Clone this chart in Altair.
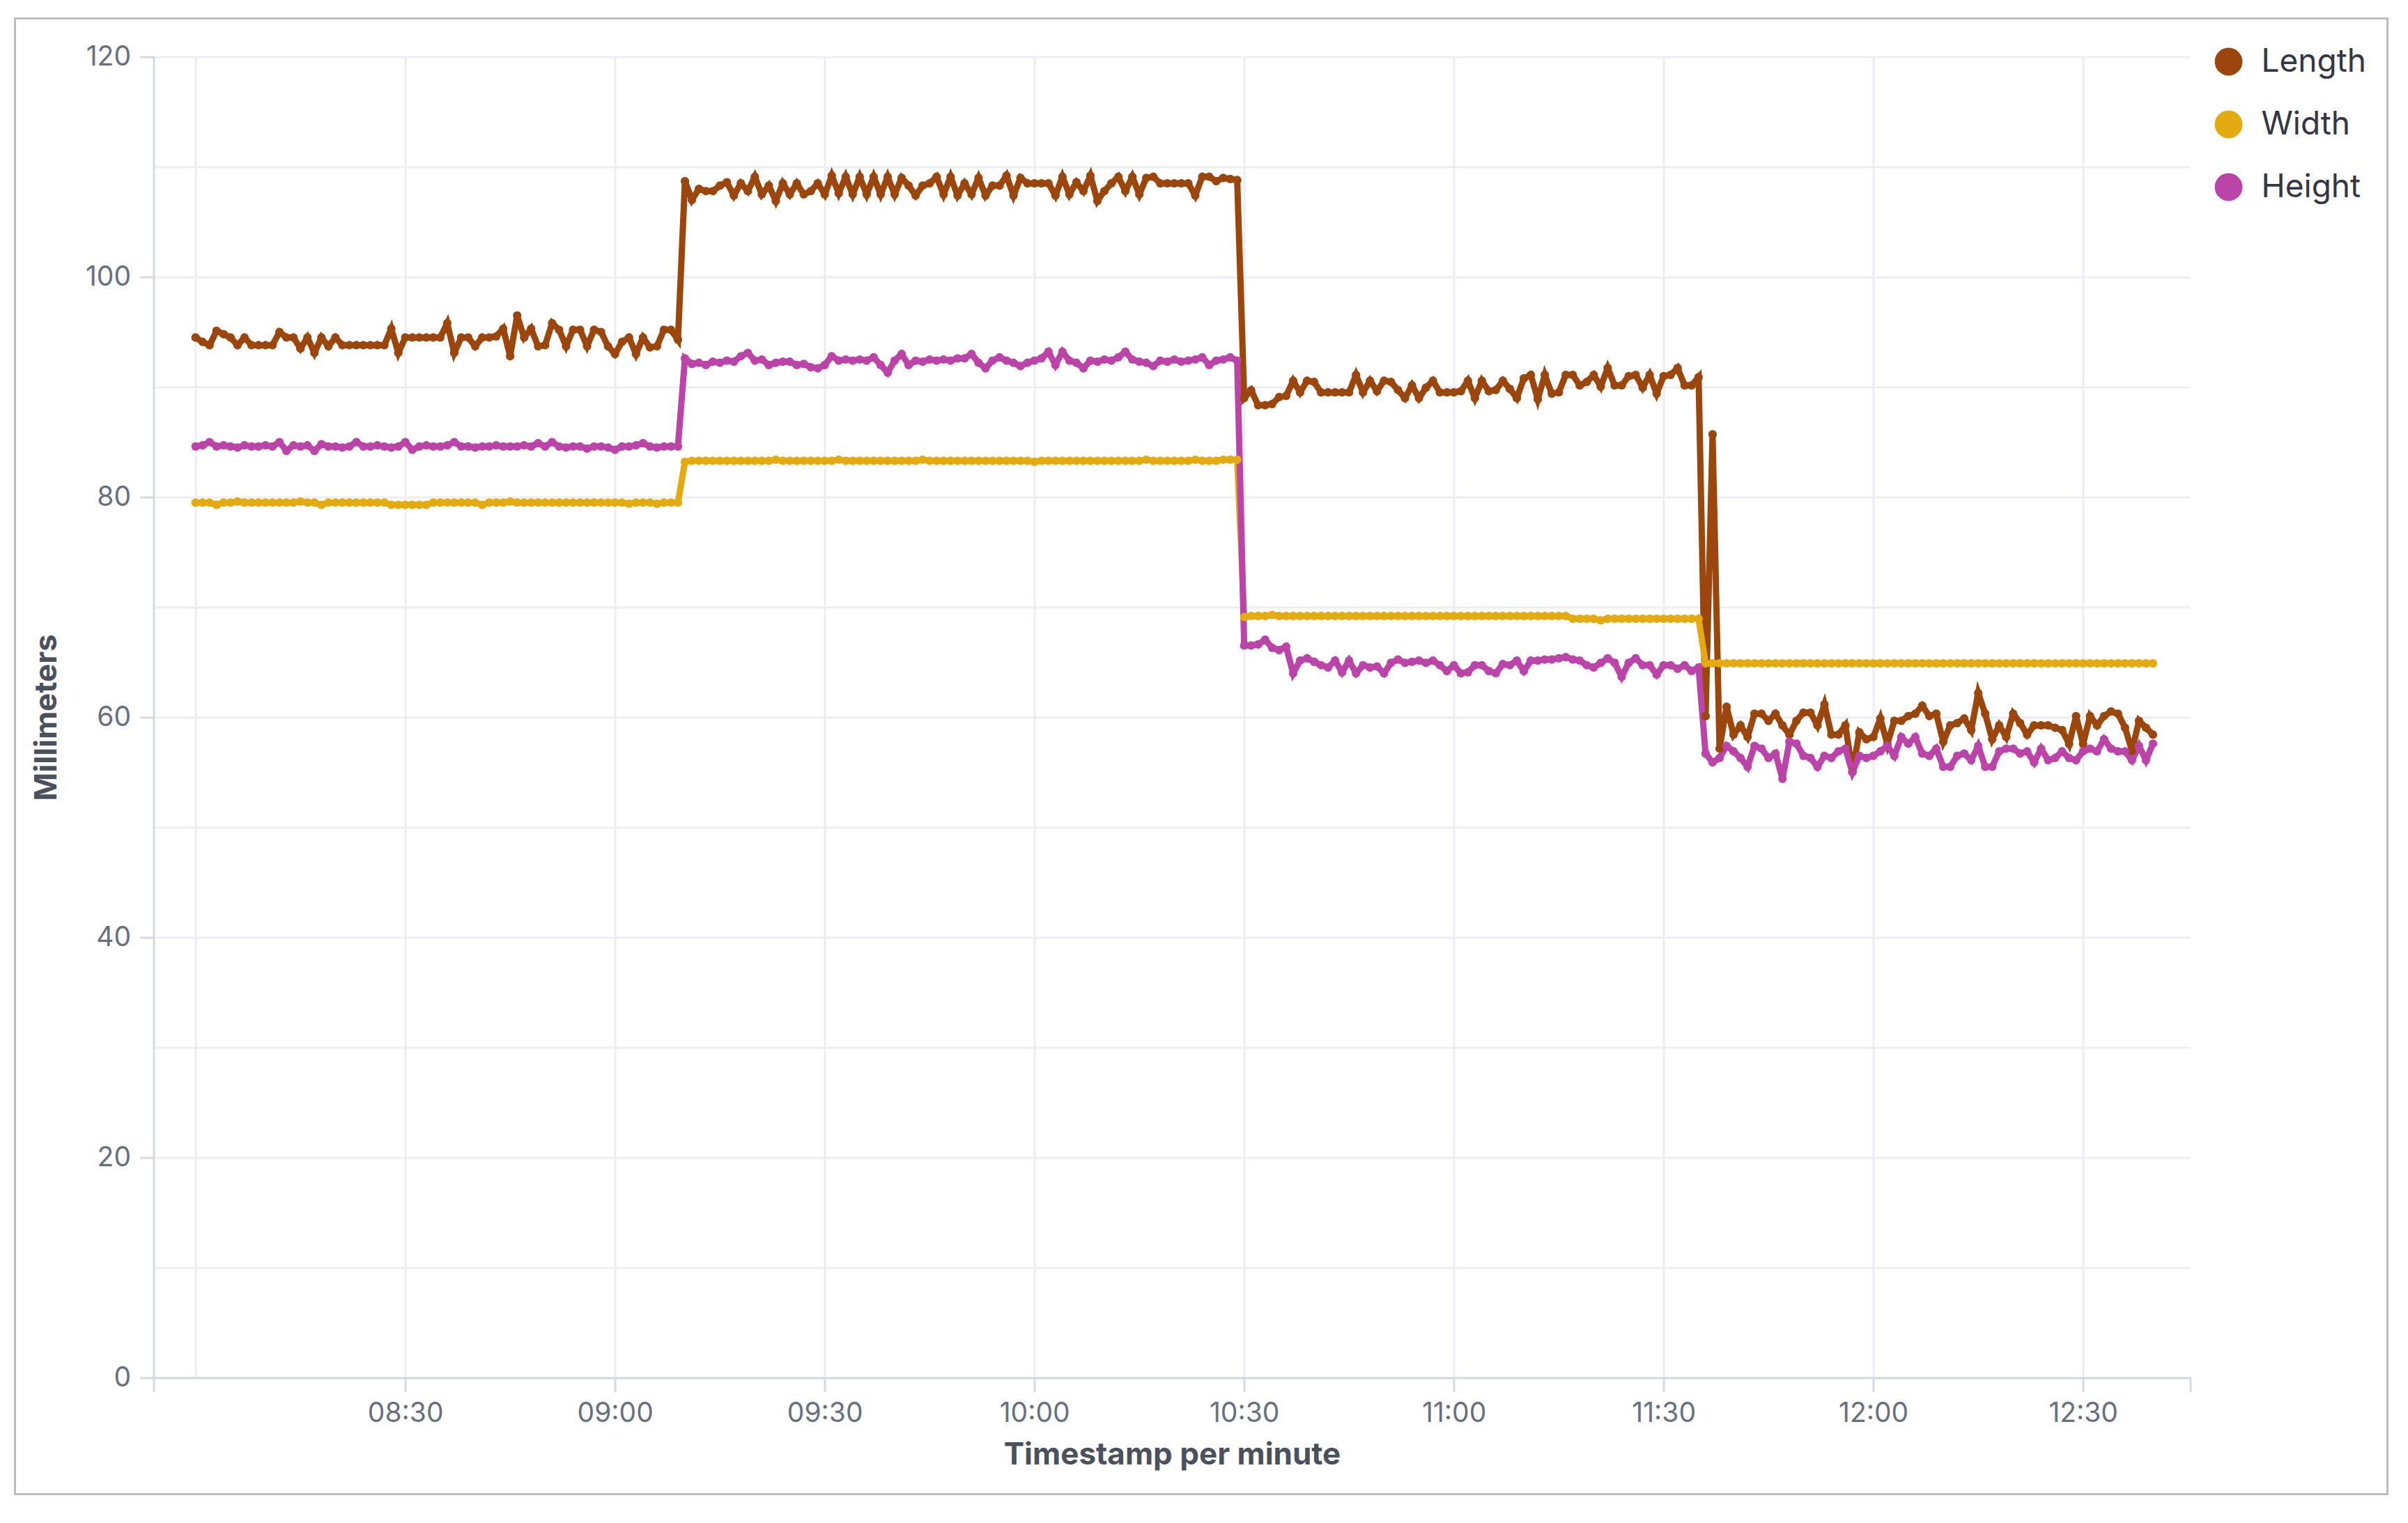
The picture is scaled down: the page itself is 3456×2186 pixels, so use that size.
import altair as alt
import pandas as pd

# ---------------- data (one reading per minute, 08:00 .. 12:40) ----------------
start_time = "2023-01-01 08:00"
series_names = ["Length", "Width", "Height"]
series_colors = ["#9A460C", "#E3AB10", "#BB44A8"]

length_vals = [
    # 08:00 - 09:09
    94.5, 94.1, 93.8, 95.1, 94.8, 94.5, 93.8, 94.5, 93.8, 93.8,
    93.8, 93.8, 95.0, 94.5, 94.5, 93.5, 94.5, 93.1, 94.5, 93.7,
    94.5, 93.8, 93.8, 93.8, 93.8, 93.8, 93.8, 93.8, 95.3, 93.1,
    94.5, 94.5, 94.5, 94.5, 94.5, 94.5, 95.8, 93.1, 94.5, 94.5,
    93.7, 94.5, 94.5, 94.6, 95.3, 92.8, 96.5, 94.5, 95.3, 93.7,
    93.8, 95.8, 95.2, 93.7, 95.2, 95.2, 93.7, 95.2, 95.0, 93.7,
    93.0, 94.1, 94.5, 93.0, 94.5, 93.6, 93.7, 95.2, 95.2, 94.3,
    # 09:10 - 10:29
    108.7, 107.0, 108.0, 107.8, 107.8, 108.3, 108.6, 107.4, 108.5, 107.8,
    109.1, 107.5, 108.3, 106.9, 108.5, 107.5, 108.5, 107.5, 107.8, 108.5,
    107.5, 109.2, 107.6, 109.1, 107.5, 109.1, 107.5, 109.1, 107.5, 109.1,
    107.5, 109.0, 108.3, 107.4, 108.3, 108.5, 109.1, 107.5, 109.1, 107.4,
    108.5, 107.5, 109.0, 107.4, 108.3, 108.3, 109.2, 107.4, 109.0, 108.5,
    108.5, 108.5, 108.5, 107.4, 109.1, 107.5, 108.6, 107.8, 109.2, 106.9,
    107.8, 108.5, 109.1, 107.8, 109.1, 107.5, 109.0, 109.1, 108.5, 108.5,
    108.5, 108.5, 108.5, 107.4, 109.1, 109.1, 108.7, 109.0, 108.9, 108.8,
    # 10:30 - 11:35
    89.0, 89.7, 88.35, 88.35, 88.46, 89.09, 89.2, 90.57, 89.51, 90.57,
    90.46, 89.51, 89.51, 89.51, 89.51, 89.51, 91.1, 89.51, 90.57, 89.62,
    90.57, 90.46, 89.73, 88.99, 90.15, 88.99, 89.94, 90.57, 89.51, 89.51,
    89.51, 89.62, 90.57, 88.99, 90.57, 89.62, 89.73, 90.57, 89.83, 88.99,
    90.78, 91.1, 88.88, 91.1, 89.41, 89.51, 91.1, 91.1, 90.15, 90.46,
    91.1, 90.04, 91.73, 90.15, 90.15, 90.99, 91.1, 89.94, 91.1, 89.41,
    90.99, 91.1, 91.73, 90.15, 90.15, 90.89,
    # 11:36 - 12:40
    60.1, 85.7, 57.15, 60.95, 58.42, 59.26, 58.21, 60.32, 60.32, 59.68,
    60.32, 59.26, 58.42, 59.68, 60.42, 60.42, 59.26, 61.16, 58.42, 58.42,
    59.26, 55.04, 58.63, 58.0, 58.21, 59.89, 57.57, 59.68, 59.68, 60.11,
    60.32, 61.05, 60.11, 60.32, 57.78, 59.26, 59.47, 59.89, 58.84, 62.2,
    60.32, 58.0, 59.26, 58.21, 60.32, 59.47, 58.42, 59.26, 59.26, 59.26,
    59.05, 58.84, 57.57, 60.11, 57.57, 60.11, 59.26, 60.11, 60.53, 60.32,
    59.05, 56.94, 59.68, 59.05, 58.42,
]

width_vals = [
    # 08:00 - 09:09
    79.5, 79.5, 79.5, 79.3, 79.5, 79.5, 79.6, 79.5, 79.5, 79.5,
    79.5, 79.5, 79.5, 79.5, 79.5, 79.6, 79.5, 79.5, 79.3, 79.5,
    79.5, 79.5, 79.5, 79.5, 79.5, 79.5, 79.5, 79.5, 79.3, 79.3,
    79.3, 79.3, 79.3, 79.3, 79.5, 79.5, 79.5, 79.5, 79.5, 79.5,
    79.5, 79.3, 79.5, 79.5, 79.5, 79.6, 79.5, 79.5, 79.5, 79.5,
    79.5, 79.5, 79.5, 79.5, 79.5, 79.5, 79.5, 79.5, 79.5, 79.5,
    79.5, 79.5, 79.4, 79.5, 79.5, 79.5, 79.4, 79.5, 79.5, 79.5,
    # 09:10 - 10:29
    83.2, 83.3, 83.3, 83.3, 83.3, 83.3, 83.3, 83.3, 83.3, 83.3,
    83.3, 83.3, 83.3, 83.4, 83.3, 83.3, 83.3, 83.3, 83.3, 83.3,
    83.3, 83.3, 83.4, 83.3, 83.3, 83.3, 83.3, 83.3, 83.3, 83.3,
    83.3, 83.3, 83.3, 83.3, 83.4, 83.3, 83.3, 83.3, 83.3, 83.3,
    83.3, 83.3, 83.3, 83.3, 83.3, 83.3, 83.3, 83.3, 83.3, 83.3,
    83.2, 83.3, 83.3, 83.3, 83.3, 83.3, 83.3, 83.3, 83.3, 83.3,
    83.3, 83.3, 83.3, 83.3, 83.3, 83.3, 83.4, 83.3, 83.3, 83.3,
    83.3, 83.3, 83.3, 83.4, 83.3, 83.3, 83.3, 83.4, 83.4, 83.4,
    # 10:30 - 11:35
    69.1, 69.2, 69.2, 69.2, 69.3, 69.2, 69.2, 69.2, 69.2, 69.2,
    69.2, 69.2, 69.2, 69.2, 69.2, 69.2, 69.2, 69.2, 69.2, 69.2,
    69.2, 69.2, 69.2, 69.2, 69.2, 69.2, 69.2, 69.2, 69.2, 69.2,
    69.2, 69.2, 69.2, 69.2, 69.2, 69.2, 69.2, 69.2, 69.2, 69.2,
    69.2, 69.2, 69.2, 69.2, 69.2, 69.2, 69.2, 68.95, 68.95, 68.95,
    68.95, 68.8, 68.95, 68.95, 68.95, 68.95, 68.95, 68.95, 68.95, 68.95,
    68.95, 68.95, 68.95, 68.95, 68.95, 68.95,
    # 11:36 - 12:40
    64.9, 64.9, 64.9, 64.9, 64.9, 64.9, 64.9, 64.9, 64.9, 64.9,
    64.9, 64.9, 64.9, 64.9, 64.9, 64.9, 64.9, 64.9, 64.9, 64.9,
    64.9, 64.9, 64.9, 64.9, 64.9, 64.9, 64.9, 64.9, 64.9, 64.9,
    64.9, 64.9, 64.9, 64.9, 64.9, 64.9, 64.9, 64.9, 64.9, 64.9,
    64.9, 64.9, 64.9, 64.9, 64.9, 64.9, 64.9, 64.9, 64.9, 64.9,
    64.9, 64.9, 64.9, 64.9, 64.9, 64.9, 64.9, 64.9, 64.9, 64.9,
    64.9, 64.9, 64.9, 64.9, 64.9,
]

height_vals = [
    # 08:00 - 09:09
    84.6, 84.7, 85.0, 84.6, 84.7, 84.6, 84.5, 84.7, 84.6, 84.6,
    84.7, 84.6, 85.0, 84.2, 84.7, 84.6, 84.7, 84.2, 84.8, 84.6,
    84.6, 84.5, 84.6, 85.0, 84.6, 84.6, 84.7, 84.6, 84.5, 84.6,
    85.0, 84.3, 84.6, 84.7, 84.6, 84.6, 84.7, 85.0, 84.6, 84.6,
    84.5, 84.6, 84.6, 84.7, 84.6, 84.6, 84.6, 84.7, 84.6, 84.9,
    84.6, 85.0, 84.6, 84.5, 84.6, 84.6, 84.4, 84.6, 84.6, 84.5,
    84.3, 84.6, 84.6, 84.7, 84.9, 84.6, 84.5, 84.6, 84.6, 84.6,
    # 09:10 - 10:29
    92.6, 92.1, 92.2, 92.0, 92.3, 92.2, 92.4, 92.3, 92.8, 93.1,
    92.4, 92.5, 92.0, 92.2, 92.3, 92.3, 92.0, 92.1, 91.8, 91.7,
    92.0, 92.8, 92.4, 92.5, 92.4, 92.5, 92.4, 92.7, 92.0, 91.3,
    92.4, 93.0, 92.0, 92.4, 92.3, 92.5, 92.4, 92.5, 92.4, 92.6,
    92.6, 93.0, 92.2, 91.7, 92.4, 92.7, 92.4, 92.2, 91.9, 92.2,
    92.4, 92.6, 93.2, 92.0, 93.2, 92.4, 92.2, 91.7, 92.4, 92.3,
    92.5, 92.4, 92.7, 93.2, 92.5, 92.3, 92.2, 91.9, 92.4, 92.3,
    92.5, 92.3, 92.4, 92.5, 92.7, 92.0, 92.4, 92.5, 92.7, 92.4,
    # 10:30 - 11:35
    66.52, 66.52, 66.62, 67.05, 66.31, 66.10, 66.41, 63.99, 65.15, 65.36,
    65.04, 64.73, 64.52, 65.15, 64.09, 65.15, 63.99, 64.73, 64.52, 64.62,
    63.99, 64.94, 65.25, 64.94, 65.04, 65.15, 64.94, 65.15, 64.73, 64.20,
    64.73, 63.99, 64.09, 64.73, 64.73, 64.20, 63.99, 64.83, 64.73, 65.15,
    64.20, 65.15, 65.15, 65.25, 65.25, 65.36, 65.46, 65.25, 65.15, 64.73,
    64.52, 64.94, 65.36, 64.94, 63.67, 64.94, 65.36, 64.73, 64.73, 63.88,
    64.73, 64.73, 64.41, 64.73, 64.20, 64.52,
    # 11:36 - 12:40
    56.7, 55.9, 56.3, 57.4, 56.9, 56.3, 55.5, 57.4, 57.15, 56.3,
    56.7, 54.4, 57.8, 57.6, 56.5, 56.3, 55.5, 56.5, 56.3, 56.9,
    57.15, 55.0, 56.5, 56.3, 56.5, 56.9, 57.4, 56.5, 58.2, 57.6,
    58.2, 56.7, 56.5, 57.15, 55.5, 55.5, 56.5, 56.7, 56.1, 57.4,
    55.5, 55.5, 56.9, 57.15, 57.15, 56.7, 56.9, 55.9, 57.15, 56.1,
    56.3, 56.9, 56.3, 56.1, 56.9, 57.15, 56.9, 58.0, 57.15, 56.9,
    56.9, 56.1, 57.4, 56.1, 57.6,
]

y_ticks = [0, 10, 20, 30, 40, 50, 60, 70, 80, 90, 100, 110, 120]

# ---------------- long table ----------------
times = pd.date_range(start_time, periods=len(length_vals), freq="min")
frames = []
for name, vals in zip(series_names, [length_vals, width_vals, height_vals]):
    frames.append(pd.DataFrame({"time": times[: len(vals)], "series": name, "value": vals}))
df = pd.concat(frames, ignore_index=True)


def dt(h, m, s=0):
    return alt.DateTime(year=2023, month=1, date=1, hours=h, minutes=m, seconds=s)


x_values = [dt(7, 54), dt(8, 0), dt(8, 30), dt(9, 0), dt(9, 30), dt(10, 0), dt(10, 30),
            dt(11, 0), dt(11, 30), dt(12, 0), dt(12, 30), dt(12, 45, 20)]

FONT = "Inter"
LABEL_COLOR = "#69707D"
TITLE_COLOR = "#4A505C"
AXIS_COLOR = "#D6D9DE"
GRID_COLOR = "#ECEEF1"

x_enc = alt.X(
    "time:T",
    scale=alt.Scale(domain=[dt(7, 54), dt(12, 45, 20)], nice=False),
    axis=alt.Axis(
        title="Timestamp per minute",
        format="%H:%M",
        values=x_values,
        labelExpr="(minutes(datum.value) % 30 != 0 || (hours(datum.value) == 8 && minutes(datum.value) == 0)) ? '' : datum.label",
        tickOpacity={"condition": {"test": "hours(datum.value) == 8 && minutes(datum.value) == 0", "value": 0}, "value": 1},
        gridOpacity={"condition": {"test": "minutes(datum.value) % 30 != 0", "value": 0}, "value": 1},
        labelFlush=False,
        labelOverlap=False,
        tickSize=20,
        labelPadding=12,
        titlePadding=18,
    ),
)

y_enc = alt.Y(
    "value:Q",
    scale=alt.Scale(domain=[0, 120], nice=False),
    axis=alt.Axis(
        title="Millimeters",
        values=y_ticks,
        labelExpr="datum.value % 20 == 0 ? datum.label : ''",
        tickOpacity={"condition": {"test": "datum.value % 20 != 0", "value": 0}, "value": 1},
        tickSize=20,
        labelPadding=13,
        titlePadding=33,
    ),
)

color_scale = alt.Scale(domain=series_names, range=series_colors)

lines = alt.Chart(df).mark_line(strokeWidth=9).encode(
    x=x_enc,
    y=y_enc,
    color=alt.Color("series:N", scale=color_scale),
    detail="series:N",
)

points = alt.Chart(df).mark_circle(size=150, opacity=1).encode(
    x=x_enc,
    y=y_enc,
    color=alt.Color("series:N", scale=color_scale),
)

frame = alt.Chart(pd.DataFrame({"frame": [0]})).mark_rect(
    fillOpacity=0, stroke="#BDBDBD", strokeWidth=3
).encode(
    x=alt.value(-199), x2=alt.value(3206), y=alt.value(-55), y2=alt.value(2063)
)

chart = (
    alt.layer(frame, lines, points)
    .properties(
        width=2923,
        height=1896,
        background="white",
        padding={"left": 11.5, "top": 16.5, "right": 5, "bottom": 5},
    )
    .configure_view(strokeWidth=0)
    .configure_axis(
        labelFont=FONT,
        labelFontSize=39,
        labelColor=LABEL_COLOR,
        titleFont=FONT,
        titleFontSize=44,
        titleFontWeight=700,
        titleColor=TITLE_COLOR,
        domainColor=AXIS_COLOR,
        domainWidth=3,
        tickColor=AXIS_COLOR,
        tickWidth=3,
        gridColor=GRID_COLOR,
        gridWidth=3,
    )
    .configure_legend(
        title=None,
        orient="none",
        legendX=2955,
        legendY=-16,
        padding=0,
        symbolType="circle",
        symbolSize=1590,
        symbolStrokeWidth=0,
        labelFont=FONT,
        labelFontSize=46,
        labelColor="#343741",
        labelOffset=24,
        rowPadding=44,
    )
)

chart.save("out.html", embed_options={"renderer": "svg", "actions": False})
